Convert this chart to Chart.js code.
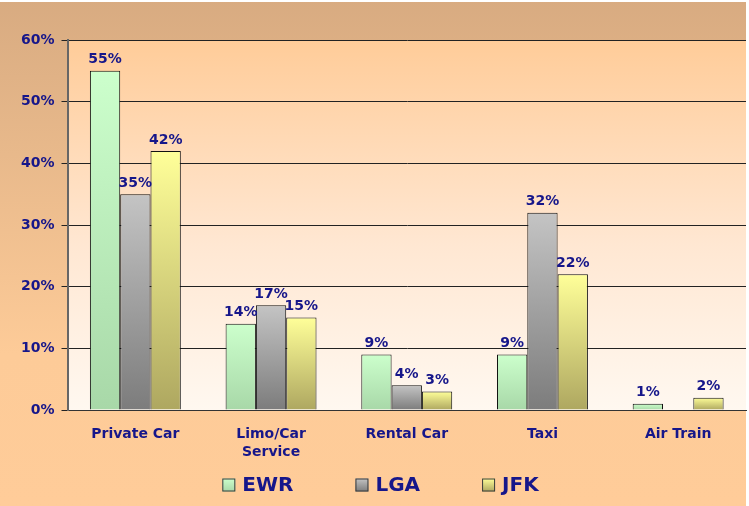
<!DOCTYPE html>
<html>
<head>
<meta charset="utf-8">
<script src="https://cdn.jsdelivr.net/npm/chart.js@4.4.1/dist/chart.umd.min.js"></script>
<style>
  html, body { margin: 0; padding: 0; background: #ffffff; }
  #wrap { width: 749px; height: 506px; }
</style>
</head>
<body>
<div id="wrap"><canvas id="chart" width="749" height="506"></canvas></div>
<script>
// chart data
var categories = ['Private Car', ['Limo/Car', 'Service'], 'Rental Car', 'Taxi', 'Air Train'];
var seriesNames = ['EWR', 'LGA', 'JFK'];
var ewrValues = [55, 14, 9, 9, 1];
var lgaValues = [35, 17, 4, 32, null];
var jfkValues = [42, 15, 3, 22, 2];
var yTicks = [0, 10, 20, 30, 40, 50, 60];

var navy = '#16168a';
var fontFamily = '"DejaVu Sans", Verdana, sans-serif';

// top / bottom colours of each bar gradient
var barColors = {
    EWR: ['#ccffcc', '#a8d8a8'],
    LGA: ['#c4c4c4', '#7c7c7c'],
    JFK: ['#ffff99', '#aea760']
};

//gradient runs from the top of each bar to the baseline
function barGradient(name) {
    return function (ctx) {
        var chart = ctx.chart;
        var yScale = chart.scales.y;
        if (!chart.chartArea || !yScale || ctx.parsed === undefined) {
            return barColors[name][0];
        }
        var top = yScale.getPixelForValue(ctx.parsed.y);
        var bottom = yScale.getPixelForValue(0);
        if (!isFinite(top) || bottom - top < 1) top = bottom - 1;
        var g = chart.ctx.createLinearGradient(0, top, 0, bottom);
        g.addColorStop(0, barColors[name][0]);
        g.addColorStop(1, barColors[name][1]);
        return g;
    };
}

//paints the outer background and the plot area
var backgroundPlugin = {
    id: 'bg',
    beforeDraw: function (chart) {
        var c = chart.ctx;
        var a = chart.chartArea;
        c.save();
        var g = c.createLinearGradient(0, 0, 0, chart.height);
        g.addColorStop(0, '#d8ab81');
        g.addColorStop(0.7, '#fdcb98');
        g.addColorStop(1, '#ffcc99');
        c.fillStyle = g;
        c.fillRect(0, 2, chart.width - 3, chart.height - 2);

        var p = c.createLinearGradient(0, a.top, 0, a.bottom);
        p.addColorStop(0, '#ffcc99');
        p.addColorStop(0.55, '#ffe7d2');
        p.addColorStop(1, '#fff8f0');
        c.fillStyle = p;
        c.fillRect(a.left, a.top, a.right - a.left, a.bottom - a.top);
        c.restore();
    }
};

//value labels over the bars
var valueLabelPlugin = {
    id: 'valueLabels',
    afterDatasetsDraw: function (chart) {
        var c = chart.ctx;
        c.save();
        c.font = 'bold 14px ' + fontFamily;
        c.fillStyle = navy;
        c.textAlign = 'center';
        c.textBaseline = 'bottom';
        chart.data.datasets.forEach(function (ds, i) {
            var meta = chart.getDatasetMeta(i);
            meta.data.forEach(function (bar, j) {
                var v = ds.data[j];
                if (v === null || v === undefined) return;
                c.fillText(v + '%', bar.x, bar.y - 4);
            });
        });
        c.restore();
    }
};

//legend along the bottom, wide gaps like the original
var legendPlugin = {
    id: 'bottomLegend',
    afterDraw: function (chart) {
        var c = chart.ctx;
        var box = 13, gap = 7, spacing = 62;
        c.save();
        c.font = 'bold 20px ' + fontFamily;
        var widths = seriesNames.map(function (n) { return box + gap + c.measureText(n).width; });
        var total = widths.reduce(function (s, w) { return s + w; }, 0) + spacing * (seriesNames.length - 1);
        var x = chart.width / 2 + 6 - total / 2;
        var y = 485;
        seriesNames.forEach(function (n, i) {
            var g = c.createLinearGradient(0, y - box / 2, 0, y + box / 2);
            g.addColorStop(0, barColors[n][0]);
            g.addColorStop(1, barColors[n][1]);
            c.fillStyle = g;
            c.fillRect(x, y - box / 2, box, box);
            c.strokeStyle = '#3a3a3a';
            c.lineWidth = 1;
            c.strokeRect(x + 0.5, y - box / 2 + 0.5, box - 1, box - 1);
            c.fillStyle = navy;
            c.textAlign = 'left';
            c.textBaseline = 'middle';
            c.fillText(n, x + box + gap, y + 1);
            x += widths[i] + spacing;
        });
        c.restore();
    }
};

new Chart(document.getElementById('chart'), {
    type: 'bar',
    data: {
        labels: categories,
        datasets: [
            { label: 'EWR', data: ewrValues, backgroundColor: barGradient('EWR'), borderColor: '#111', borderWidth: 1 },
            { label: 'LGA', data: lgaValues, backgroundColor: barGradient('LGA'), borderColor: '#111', borderWidth: 1 },
            { label: 'JFK', data: jfkValues, backgroundColor: barGradient('JFK'), borderColor: '#111', borderWidth: 1 }
        ]
    },
    options: {
        responsive: false,
        animation: false,
        datasets: {
            bar: { categoryPercentage: 0.67, barPercentage: 1.0 }
        },
        layout: { padding: { top: 40, left: 14, right: 3, bottom: 37 } },
        plugins: {
            tooltip: { enabled: false },
            legend: { display: false }
        },
        scales: {
            x: {
                grid: { display: false },
                border: { color: '#333', width: 1 },
                ticks: {
                    color: navy,
                    font: { family: fontFamily, size: 14, weight: 'bold', lineHeight: 1.25 },
                    padding: 8,
                    maxRotation: 0
                }
            },
            y: {
                min: yTicks[0],
                max: yTicks[yTicks.length - 1],
                afterBuildTicks: function (axis) {
                    axis.ticks = yTicks.map(function (v) { return { value: v }; });
                },
                grid: { color: '#222', lineWidth: 1, tickLength: 6 },
                border: { color: '#666', width: 2 },
                ticks: {
                    color: navy,
                    font: { family: fontFamily, size: 14, weight: 'bold' },
                    padding: 7,
                    callback: function (v) { return v + '%'; }
                }
            }
        }
    },
    plugins: [backgroundPlugin, valueLabelPlugin, legendPlugin]
});
</script>
</body>
</html>
